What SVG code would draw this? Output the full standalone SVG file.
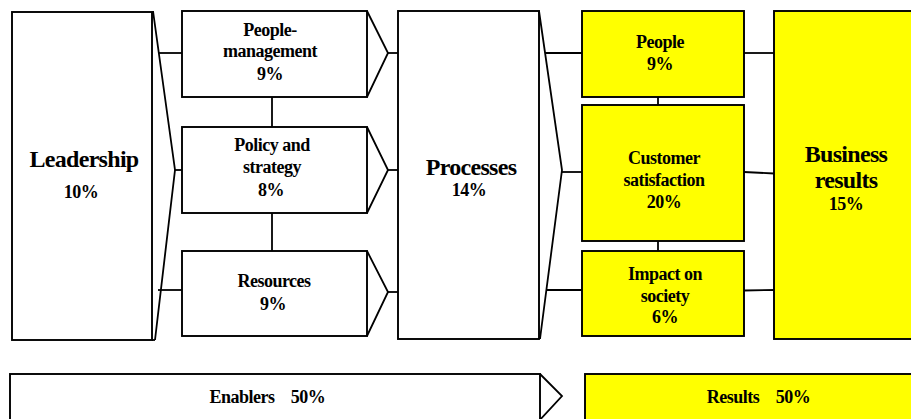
<svg xmlns="http://www.w3.org/2000/svg" width="911" height="419" viewBox="0 0 911 419">
<style>
.box{fill:#ffffff;stroke:#000;stroke-width:1.9}
.ybox{fill:#ffff00;stroke:#000;stroke-width:1.9}
.ln{fill:none;stroke:#000;stroke-width:1.8}
text{font-family:"Liberation Serif","Times New Roman",serif;font-weight:bold;fill:#000;text-anchor:middle}
.big{font-size:24px;letter-spacing:-0.7px}
.med{font-size:18px;letter-spacing:-0.5px}
</style>
<rect width="911" height="419" fill="#ffffff"/>
<g id="connectors">
<line class="ln" x1="158" y1="53" x2="182" y2="53"/>
<line class="ln" x1="175" y1="170" x2="182" y2="170"/>
<line class="ln" x1="158" y1="290" x2="182" y2="290"/>
<line class="ln" x1="272" y1="97" x2="272" y2="127"/>
<line class="ln" x1="272" y1="213" x2="272" y2="251"/>
<line class="ln" x1="388" y1="53" x2="400" y2="53"/>
<line class="ln" x1="388" y1="170" x2="400" y2="170"/>
<line class="ln" x1="388" y1="292" x2="401" y2="292"/>
<line class="ln" x1="545" y1="53" x2="582" y2="53"/>
<line class="ln" x1="562" y1="172" x2="582" y2="172"/>
<line class="ln" x1="546" y1="290" x2="582" y2="290"/>
<line class="ln" x1="658" y1="95" x2="658" y2="107"/>
<line class="ln" x1="658" y1="239" x2="658" y2="252"/>
<line class="ln" x1="744" y1="53" x2="774" y2="53"/>
<line class="ln" x1="744" y1="172" x2="774" y2="173.5"/>
<line class="ln" x1="744" y1="290.5" x2="776" y2="290"/>
</g>
<g id="leadership">
<rect class="box" x="12" y="12" width="140" height="328"/>
<line class="ln" x1="152" y1="340" x2="155" y2="340"/>
<polyline class="ln" points="153,11 175,170 155,340"/>
<text class="big" x="84" y="167">Leadership</text>
<text class="med" x="81" y="198">10%</text>
</g>
<g id="people-management">
<rect class="box" x="182" y="11" width="185" height="86"/>
<polyline class="ln" points="367,11 388,53 367,97"/>
<text class="med" x="270" y="36">People-</text>
<text class="med" x="270" y="57">management</text>
<text class="med" x="270" y="80">9%</text>
</g>
<g id="policy-strategy">
<rect class="box" x="182" y="127" width="185" height="86"/>
<polyline class="ln" points="367,127 388,170 367,213"/>
<text class="med" x="272" y="151">Policy and</text>
<text class="med" x="272" y="173">strategy</text>
<text class="med" x="271" y="196">8%</text>
</g>
<g id="resources">
<rect class="box" x="182" y="251" width="185" height="85"/>
<polyline class="ln" points="367,251 388,292 367,336"/>
<text class="med" x="274" y="287">Resources</text>
<text class="med" x="273" y="310">9%</text>
</g>
<g id="processes">
<rect class="box" x="398" y="11" width="141" height="328"/>
<polyline class="ln" points="539,11 562,170 540,339"/>
<text class="big" x="471" y="175">Processes</text>
<text class="med" x="469" y="196">14%</text>
</g>
<g id="people">
<rect class="ybox" x="582" y="11" width="162" height="86"/>
<text class="med" x="660" y="48">People</text>
<text class="med" x="660" y="70">9%</text>
</g>
<g id="customer-satisfaction">
<rect class="ybox" x="582" y="105" width="162" height="136"/>
<text class="med" x="664" y="164">Customer</text>
<text class="med" x="664" y="186">satisfaction</text>
<text class="med" x="664" y="208">20%</text>
</g>
<g id="impact-society">
<rect class="ybox" x="582" y="251" width="162" height="85"/>
<text class="med" x="665" y="280">Impact on</text>
<text class="med" x="665" y="302">society</text>
<text class="med" x="665" y="323">6%</text>
</g>
<g id="business-results">
<rect class="ybox" x="774" y="11" width="145" height="328"/>
<text class="big" x="846" y="162">Business</text>
<text class="big" x="846" y="188">results</text>
<text class="med" x="846" y="210">15%</text>
</g>
<g id="enablers">
<rect class="box" x="10" y="374" width="530" height="50"/>
<polyline class="ln" points="540,374 562,396 538,422"/>
<text class="med" x="242" y="403">Enablers</text>
<text class="med" x="308" y="403">50%</text>
</g>
<g id="results">
<rect class="ybox" x="585" y="374" width="340" height="50"/>
<text class="med" x="733" y="403">Results</text>
<text class="med" x="793" y="403">50%</text>
</g>
</svg>
